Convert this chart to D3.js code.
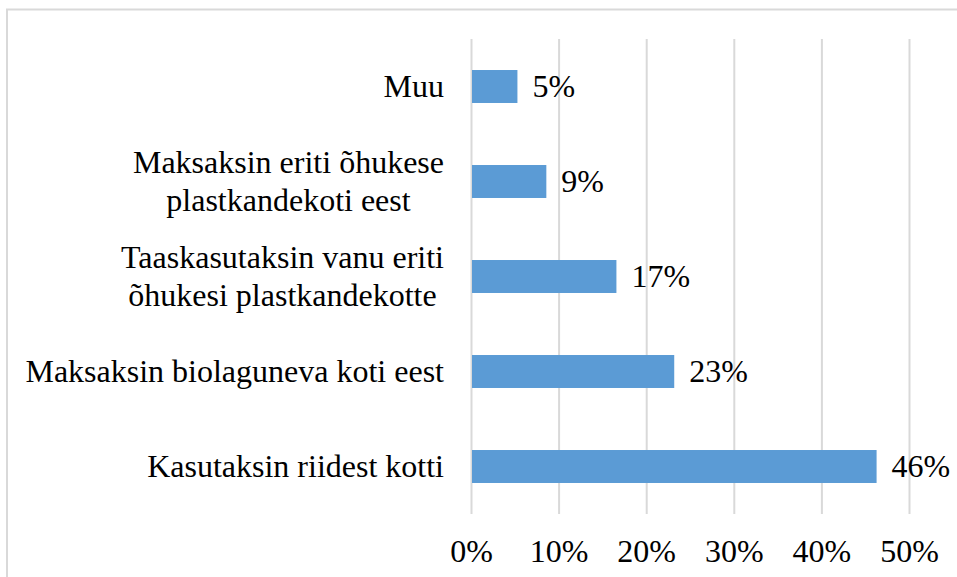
<!DOCTYPE html>
<html>
<head>
<meta charset="utf-8">
<script src="https://cdn.jsdelivr.net/npm/d3@7"></script>
<style>
body { margin: 0; background: #fff; }
svg { display: block; }
</style>
</head>
<body>
<svg id="chart"></svg>
<script>
// categories top to bottom, each one split in lines
var categories = [
    ["Muu"],
    ["Maksaksin eriti õhukese", "plastkandekoti eest"],
    ["Taaskasutaksin vanu eriti", "õhukesi plastkandekotte"],
    ["Maksaksin biolaguneva koti eest"],
    ["Kasutaksin riidest kotti"]
];
var values = [5.3, 8.6, 16.6, 23.2, 46.3];
var valueLabels = ["5%", "9%", "17%", "23%", "46%"];
var xTicks = [0, 10, 20, 30, 40, 50];

var width = 957, height = 577;
var fontSize = 32;
var serif = "'Liberation Serif', 'Times New Roman', serif";
var svg = d3.select("#chart").attr("width", width).attr("height", height);

var x = d3.scaleLinear().domain([0, 50]).range([471, 909]);
var y = d3.scaleBand().domain(d3.range(categories.length)).range([39, 514])
    .paddingInner(0.653).paddingOuter(0.3265);

// outer frame
svg.append("rect")
    .attr("x", 7).attr("y", 9.5)
    .attr("width", width + 20).attr("height", height + 20)
    .attr("fill", "none").attr("stroke", "#d9d9d9").attr("stroke-width", 2);

// gridlines + tick labels
var xAxis = svg.append("g").attr("transform", "translate(0,514)")
    .call(d3.axisBottom(x).tickValues(xTicks).tickSize(-475)
        .tickFormat(function(d) { return d + "%"; }));
xAxis.select(".domain").remove();
xAxis.selectAll("line").attr("stroke", "#d9d9d9").attr("stroke-width", 2);
xAxis.selectAll("text")
    .style("font-family", serif)
    .style("font-size", fontSize + "px")
    .attr("fill", "#000")
    .attr("y", 48).attr("dy", 0);

// bars
svg.selectAll("rect.bar").data(values).enter().append("rect")
    .attr("class", "bar")
    .attr("x", x(0) + 1)
    .attr("y", function(d, i) { return y(i); })
    .attr("width", function(d) { return x(d) - x(0) - 1; })
    .attr("height", y.bandwidth())
    .attr("fill", "#5b9bd5");

// value labels
svg.selectAll("text.val").data(values).enter().append("text")
    .attr("class", "val")
    .attr("x", function(d) { return x(d) + 15; })
    .attr("y", function(d, i) { return y(i) + y.bandwidth() / 2; })
    .attr("dy", "0.32em")
    .style("font-family", serif)
    .style("font-size", fontSize + "px")
    .text(function(d, i) { return valueLabels[i]; });

// category labels: lines centred on each other, block right aligned
var lineH = fontSize * 1.2;
categories.forEach(function(lines, i) {
    var g = svg.append("g");
    var cy = y(i) + y.bandwidth() / 2;
    var texts = lines.map(function(line, j) {
        return g.append("text")
            .style("font-family", serif)
            .style("font-size", fontSize + "px")
            .attr("y", cy + (j - (lines.length - 1) / 2) * lineH)
            .attr("dy", "0.32em")
            .attr("text-anchor", "middle")
            .text(line);
    });
    var maxW = d3.max(texts, function(t) { return t.node().getComputedTextLength(); });
    texts.forEach(function(t) { t.attr("x", 444 - maxW / 2); });
});
</script>
</body>
</html>
